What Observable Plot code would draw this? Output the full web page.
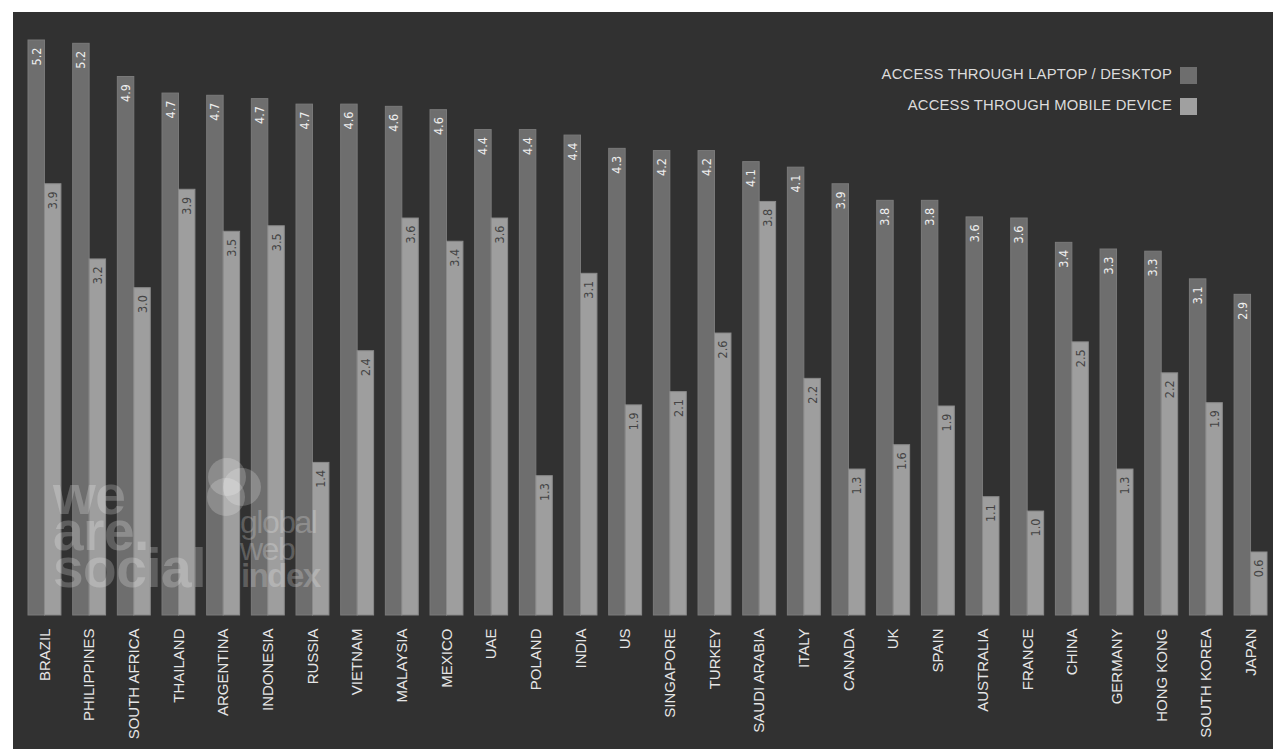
<!DOCTYPE html>
<html>
<head>
<meta charset="utf-8">
<script src="https://cdn.jsdelivr.net/npm/d3@7"></script>
<script src="https://cdn.jsdelivr.net/npm/@observablehq/plot@0.6"></script>
<style>
  html, body { margin: 0; padding: 0; background: #ffffff; }
  #panel { position: absolute; left: 13px; top: 12px; width: 1260px; height: 737px; background: #313131; overflow: hidden; }
  #chart { position: absolute; left: 0; top: 0; }
  .legend { position: absolute; right: 101px; font-family: "Liberation Sans", Arial, sans-serif; font-size: 14.8px; color: #dcdcdc; letter-spacing: 0.2px; white-space: nowrap; }
  .sw { position: absolute; width: 17px; height: 17px; left: 1167px; }
  #wm { position: absolute; left: 0; top: 0; pointer-events: none; }
</style>
</head>
<body>
<div id="panel">
  <div id="chart"></div>
  <div class="legend" style="top:54px;">ACCESS THROUGH LAPTOP / DESKTOP</div>
  <div class="sw" style="top:55px;background:#6e6e6e;"></div>
  <div class="legend" style="top:85px;">ACCESS THROUGH MOBILE DEVICE</div>
  <div class="sw" style="top:86px;background:#a0a0a0;"></div>
  <svg id="wm" width="1260" height="737">
    <g fill="#ffffff" fill-opacity="0.22" font-family="'Liberation Sans', Arial, sans-serif" font-weight="bold" letter-spacing="-0.5">
      <text x="40" y="502" font-size="55">we</text>
      <text x="40" y="538" font-size="55">are.</text>
      <text x="40" y="575" font-size="55">social</text>
    </g>
    <g fill="#ffffff" fill-opacity="0.2">
      <circle cx="214" cy="465" r="19"></circle>
      <circle cx="229" cy="475" r="19"></circle>
      <circle cx="213" cy="485" r="19"></circle>
    </g>
    <g fill="#ffffff" fill-opacity="0.22" font-family="'Liberation Sans', Arial, sans-serif" letter-spacing="-1.5">
      <text x="227" y="521" font-size="32" font-weight="300">global</text>
      <text x="227" y="548" font-size="32" font-weight="300">web</text>
      <text x="228" y="575" font-size="33" font-weight="bold">index</text>
    </g>
  </svg>
</div>
<script>
const countries = ["BRAZIL","PHILIPPINES","SOUTH AFRICA","THAILAND","ARGENTINA","INDONESIA","RUSSIA","VIETNAM","MALAYSIA","MEXICO","UAE","POLAND","INDIA","US","SINGAPORE","TURKEY","SAUDI ARABIA","ITALY","CANADA","UK","SPAIN","AUSTRALIA","FRANCE","CHINA","GERMANY","HONG KONG","SOUTH KOREA","JAPAN"];
const series = ["ACCESS THROUGH LAPTOP / DESKTOP", "ACCESS THROUGH MOBILE DEVICE"];
const laptopHours = [5.20,5.17,4.87,4.72,4.70,4.67,4.62,4.62,4.60,4.57,4.39,4.39,4.34,4.22,4.20,4.20,4.10,4.05,3.90,3.75,3.75,3.60,3.59,3.37,3.31,3.29,3.04,2.90];
const laptopLabels = ["5.2","5.2","4.9","4.7","4.7","4.7","4.7","4.6","4.6","4.6","4.4","4.4","4.4","4.3","4.2","4.2","4.1","4.1","3.9","3.8","3.8","3.6","3.6","3.4","3.3","3.3","3.1","2.9"];
const mobileHours = [3.90,3.22,2.96,3.85,3.47,3.52,1.38,2.39,3.59,3.38,3.59,1.26,3.09,1.90,2.02,2.55,3.74,2.14,1.32,1.54,1.89,1.07,0.94,2.47,1.32,2.19,1.92,0.57];
const mobileLabels = ["3.9","3.2","3.0","3.9","3.5","3.5","1.4","2.4","3.6","3.4","3.6","1.3","3.1","1.9","2.1","2.6","3.8","2.2","1.3","1.6","1.9","1.1","1.0","2.5","1.3","2.2","1.9","0.6"];

const data = [];
countries.forEach((c, i) => {
  data.push({country: c, series: series[0], value: laptopHours[i], label: laptopLabels[i]});
  data.push({country: c, series: series[1], value: mobileHours[i], label: mobileLabels[i]});
});
const isLaptop = d => d.series === series[0];
const isMobile = d => d.series === series[1];
const labelFont = "'Liberation Sans Narrow', 'DejaVu Sans Condensed', sans-serif";

const chart = Plot.plot({
  width: 1260,
  height: 737,
  marginLeft: 15,
  marginRight: 6,
  marginTop: 28,
  marginBottom: 134,
  style: {background: "transparent", color: "#e6e6e6", fontFamily: "'Liberation Sans', Arial, sans-serif", fontSize: "15px"},
  facet: {data, x: "country"},
  fx: {domain: countries, paddingInner: 0.263, paddingOuter: 0, round: false, label: null, tickSize: 0, tickPadding: 13, tickRotate: -90},
  x: {domain: series, axis: null, padding: 0, round: false},
  y: {domain: [0, d3.max(laptopHours)], axis: null},
  marks: [
    Plot.barY(data, {filter: isLaptop, x: "series", y: "value", fill: "#6e6e6e", stroke: "#7a7a7a", strokeWidth: 1}),
    Plot.barY(data, {filter: isMobile, x: "series", y: "value", fill: "#9e9e9e", stroke: "#8a8a8a", strokeWidth: 1}),
    Plot.text(data, {filter: isLaptop, x: "series", y: "value", text: "label", rotate: -90, textAnchor: "end", dy: 7, fill: "#eeeeee", fontSize: 12.5, fontFamily: labelFont}),
    Plot.text(data, {filter: isMobile, x: "series", y: "value", text: "label", rotate: -90, textAnchor: "end", dy: 7, fill: "#444444", fontSize: 12.5, fontFamily: labelFont})
  ]
});
document.getElementById("chart").appendChild(chart);
</script>
</body>
</html>
